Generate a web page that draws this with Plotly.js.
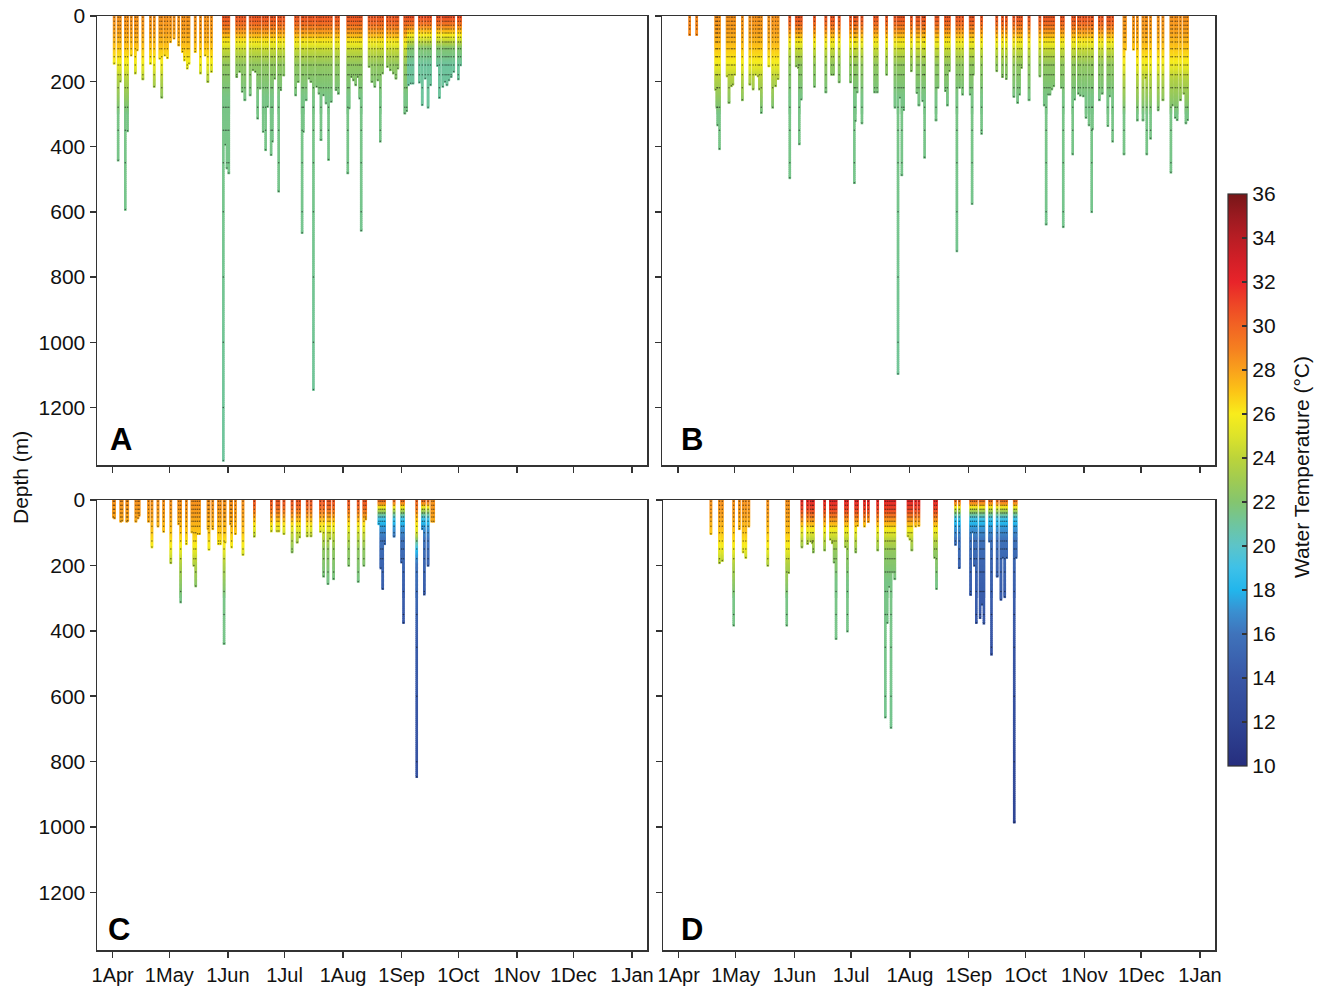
<!DOCTYPE html>
<html>
<head>
<meta charset="utf-8">
<script src="https://cdn.plot.ly/plotly-3.0.1.min.js"></script>
<style>
html,body{margin:0;padding:0;background:#fff;}
#chart{width:1323px;height:986px;}
</style>
</head>
<body>
<div id="chart"></div>
<script>
// ---------------- DATA ----------------
// Cast dates as days after 1 April; max depth of each cast in metres;
// temperature-profile type of each cast (index into the profile tables).
const seasonStart = '2011-04-01';

const aDays = [0.8,2.9,4,6.7,7.9,9.8,12,13,16,20,22,25,26,27.6,29,30.6,32.5,35,37,38,39.5,40.4,43.7,46.5,49,50.4,52.3,
  58.6,59.6,60.5,61.5,65.7,67.2,68.6,70,72.8,74.3,75.6,76.8,78,79.7,81,82,83.9,84.6,85.8,87.9,89,90.6,96.9,98.2,100.3,101,102.4,104,105,106.3,108,109.3,110.3,111.6,113,114.3,115.7,118.3,119.5,124.5,125.2,126.4,127.5,128.7,129.8,130.8,131.6,135.8,137.3,138.8,140.4,141.7,142.9,145.5,147,148.6,150,151,
  154.7,155.7,156.6,157.8,159,162.4,163.9,165.5,167,168.3,172,173,174.8,176,177,178,179.2,180.6,183,184.2];
const aDepths = [145,442,200,593,352,120,175,104,193,145,216,130,249,120,128,79,68,89,109,135,160,145,109,175,120,201,170,
  1362,394,466,481,186,170,231,257,242,165,170,313,221,354,410,277,425,384,191,537,226,181,242,201,664,354,257,191,201,1145,216,237,379,242,267,440,262,226,237,481,282,186,196,211,186,252,657,155,201,216,196,384,175,155,165,175,191,160,
  298,290,211,206,206,203,272,191,280,211,152,250,216,201,211,196,186,170,193,150];
const aProf = [0,0,0,0,0,0,0,0,0,0,0,0,0,0,0,0,0,0,0,0,0,0,0,0,0,0,0,
  1,1,1,1,1,1,1,1,1,1,1,1,1,1,1,1,1,1,1,1,1,1,1,1,1,1,1,1,1,1,1,1,1,1,1,1,1,1,1,1,1,1,1,1,1,1,1,1,1,1,1,1,1,1,1,1,1,1,1,1,
  2,2,2,2,2,2,2,2,2,2,2,2,2,2,2,2,2,2,2,2];

const bDays = [6.3,10,20,20.6,21,22,26,27,28.2,29,30,34,38,39.7,41,42.3,43,44,48,50,51.5,52.8,
  59,62.4,63.5,64,65,72,78,81,82,85,91,93,93.5,94.4,97,103.7,105,110,114.4,116,117,118,119,123,126,127,129,129.7,130,136,137,141,142,143,147,148.4,150,154,155,155.6,160,168,171,173,177,179,180,181,
  185,190.7,193,194,195,196,197,198,202,203,208,209,211,212,213.6,215,216.6,218,218.4,222,223.5,226.5,227.5,229,
  235,235.7,240,242,245,246.4,247,249,253,255.5,259.7,260.5,262,263,264.7,266.6,267.6,268.5];
const bDepths = [57,57,225,280,334,407,184,265,214,209,179,257,209,224,179,184,224,296,153,280,214,192,
  496,153,158,392,255,216,233,179,179,202,202,511,321,233,328,233,233,179,280,1096,250,487,287,168,235,273,260,179,433,319,219,229,273,168,720,219,240,240,575,179,360,168,186,192,247,265,240,158,
  257,184,273,638,240,240,224,214,219,646,423,255,237,243,245,311,334,600,346,257,237,336,245,384,
  423,102,102,319,319,189,423,375,288,257,479,273,311,318,257,237,328,318];
const bProf = [6,6,0,0,0,0,0,0,0,0,0,0,0,0,0,0,0,0,0,0,0,0,
  1,1,1,1,1,1,1,1,1,1,1,1,1,1,1,1,1,1,1,1,1,1,1,1,1,1,1,1,1,1,1,1,1,1,1,1,1,1,1,1,1,1,1,1,1,1,1,1,
  1,1,1,1,1,1,1,1,1,1,1,1,1,1,1,1,1,1,1,1,1,1,1,1,
  0,0,0,0,0,0,0,0,0,0,0,0,0,0,0,0,0,0];

const cDays = [0.4,1,4.3,5,7.5,8,12.3,13.4,14,19,20.8,24,27,30.8,35,36,39,42,43,44,45,46,50.5,51,53,56,57,59,59.5,62.4,63,65,69,
  75,84,87,88,90.7,95,97.7,99,103,105,110,111.7,114,115,117,125,130,133,134,
  141,142,143,144,149,153,154,161,164,165,167,169,170];
const cDepths = [52,55,65,63,65,63,65,55,47,65,144,80,96,192,73,312,134,98,200,263,103,103,88,151,88,134,134,439,129,73,144,103,167,
  111,95,95,95,103,159,129,113,110,110,96,233,256,118,241,200,249,200,58,
  73,208,271,134,111,190,375,846,88,288,200,65,65];
const cProf = [0,0,0,0,0,0,0,0,0,0,0,0,0,0,0,0,0,0,0,0,0,0,0,0,0,0,0,0,0,0,0,0,0,
  1,1,1,1,1,1,1,1,1,1,1,1,1,1,1,1,1,1,1,
  3,3,3,3,3,3,3,5,3,3,3,0,0];

const dDays = [17,21.5,23,29,32,34,35.4,37,47,57,58,
  65,68,69.6,70.5,71,77,80,81,82,83,88,89,93.4,94.3,98,100,105,109,110,111,112,113,114,121,122,123,125,126.7,135,136,
  146,148,154,155,156,157,159,160,161,164,165,168,170,171,172,173,177,178];
const dDepths = [103,192,185,383,88,159,176,80,200,383,222,
  144,133,126,131,159,153,120,131,190,424,143,401,159,78,80,66,153,664,375,265,696,220,241,110,120,153,80,78,176,271,
  136,207,289,98,200,375,360,319,377,126,472,233,304,176,296,176,985,176];
const dProf = [0,0,0,0,0,0,0,0,0,0,0,
  4,4,4,4,4,4,4,4,4,4,4,4,4,4,4,4,4,4,4,4,4,4,4,4,4,4,4,4,4,4,
  3,3,3,3,3,3,3,3,3,3,3,3,3,3,3,3,3,3];

// Temperature profile types: depth (m) -> temperature (°C)
const profDepth = [
  [0,50,100,140,200,300,1400],          // 0 spring / autumn
  [0,20,45,80,110,150,250,1400],        // 1 summer
  [0,25,50,75,100,150,1400],            // 2 late summer, sharper thermocline
  [0,15,35,55,80,120,200,400,1000],     // 3 cold upwelled water
  [0,30,60,90,120,160,250,1400],        // 4 hot summer
  [0,30,60,100,130,160,200,400,900],    // 5 cold with deeper warm layer
  [0,100]                               // 6 shallow warm mixed
];
const profTemp = [
  [28.5,28,27,26,23.5,21.5,21],
  [30.5,30,28.5,26,24,22.5,21.5,21],
  [31,29.5,27,24.5,22,21,21],
  [30,28,23,19.5,17.5,16,15,14,12],
  [32,31,28.5,26,24,22.5,21.5,21],
  [30,29,27,25,21,18,16,14.5,13.5],
  [28.8,28.5]
];
// depths at which measurement dots appear
const dotDepths = [4,16,28,40,52,65,80,100,125,150,180,220,280,350,450,600,800,1000,1200];

const monthTicks = ['2011-04-01','2011-05-01','2011-06-01','2011-07-01','2011-08-01','2011-09-01','2011-10-01','2011-11-01','2011-12-01','2012-01-01'];
const monthLabels = ['1Apr','1May','1Jun','1Jul','1Aug','1Sep','1Oct','1Nov','1Dec','1Jan'];
const depthTicks = [0,200,400,600,800,1000,1200];
const tempTicks = [10,12,14,16,18,20,22,24,26,28,30,32,34,36];

// ---------------- BUILD ----------------
const t0 = Date.parse(seasonStart + 'T00:00:00Z');
function dayToDate(d){ return new Date(t0 + d*864e5).toISOString().slice(0,19).replace('T',' '); }
function tempAt(p, z){
  const D = profDepth[p], T = profTemp[p];
  if (z <= D[0]) return T[0];
  for (let i = 1; i < D.length; i++){
    if (z <= D[i]){ const f = (z - D[i-1])/(D[i]-D[i-1]); return T[i-1] + f*(T[i]-T[i-1]); }
  }
  return T[T.length-1];
}
function panel(days, depths, profs, xa, ya){
  const cx=[], cy=[], cc=[], dx=[], dy=[];
  for (let k = 0; k < days.length; k++){
    const xd = dayToDate(days[k]), maxD = depths[k], p = profs[k];
    for (let z = 0; z < maxD; z += (z < 300 ? 4 : 6)){ cx.push(xd); cy.push(z); cc.push(tempAt(p,z)); }
    cx.push(xd); cy.push(maxD); cc.push(tempAt(p,maxD));
    for (const z of dotDepths){ if (z < maxD - 5){ dx.push(xd); dy.push(z); } }
    dx.push(xd); dy.push(maxD);
  }
  return [
    {type:'scatter', mode:'markers', x:cx, y:cy, xaxis:xa, yaxis:ya, hoverinfo:'skip', showlegend:false,
     marker:{symbol:'square', size:2.6, color:cc, coloraxis:'coloraxis', line:{width:0}}},
    {type:'scatter', mode:'markers', x:dx, y:dy, xaxis:xa, yaxis:ya, hoverinfo:'skip', showlegend:false,
     marker:{symbol:'circle', size:1.5, color:'rgba(20,20,20,0.6)', line:{width:0}}}
  ];
}

const data = [].concat(
  panel(aDays, aDepths, aProf, 'x', 'y'),
  panel(bDays, bDepths, bProf, 'x2', 'y2'),
  panel(cDays, cDepths, cProf, 'x3', 'y3'),
  panel(dDays, dDepths, dProf, 'x4', 'y4')
);

const W = 1323, H = 986;
const font = {family:'Liberation Sans, Arial, Helvetica, sans-serif', size:21, color:'#111'};
const xfont = {family:font.family, size:20, color:'#111'};
const xRange = ['2011-03-23 17:00','2012-01-08 22:00'];
function xAx(left, right, anchor, labels){
  return {domain:[left/W, right/W], anchor:anchor, type:'date', range:xRange,
    tickmode:'array', tickvals:monthTicks, ticktext:monthLabels, showticklabels:labels,
    ticks:'outside', ticklen:6, tickwidth:1.5, tickcolor:'#333',
    showline:true, linecolor:'#333', linewidth:1.5, mirror:true,
    showgrid:false, zeroline:false, tickfont:xfont, fixedrange:true};
}
function yAx(top, bottom, anchor, labels){
  return {domain:[1-bottom/H, 1-top/H], anchor:anchor, range:[1376,0],
    tickmode:'array', tickvals:depthTicks, showticklabels:labels,
    ticks:'outside', ticklen:6, tickwidth:1.5, tickcolor:'#333',
    showline:true, linecolor:'#333', linewidth:1.5, mirror:true,
    showgrid:false, zeroline:false, tickfont:font, fixedrange:true};
}
const colorscale = [
  [0/26,'#262e7e'],[2/26,'#2f4595'],[4/26,'#3856a6'],[6/26,'#3f73bb'],[7/26,'#3a8fd0'],[8/26,'#22b6ec'],
  [9/26,'#3ec1e8'],[10/26,'#5cc4c9'],[11/26,'#6fc59e'],[12/26,'#84c56f'],[13/26,'#a0cb52'],[14/26,'#bcd43a'],
  [15/26,'#dde32a'],[16/26,'#f8ec1c'],[17/26,'#fcc516'],[18/26,'#f9a11c'],[19/26,'#f57f20'],[20/26,'#f26423'],
  [21/26,'#ee4626'],[22/26,'#e8242a'],[23/26,'#d21f27'],[24/26,'#b81d24'],[25/26,'#9a1a20'],[26/26,'#771618']
];
function letter(t, x, y){
  return {text:'<b>'+t+'</b>', x:x/W, y:1-y/H, xref:'paper', yref:'paper', xanchor:'left', yanchor:'middle',
    showarrow:false, font:{family:font.family, size:31, color:'#000'}};
}
const layout = {
  width:W, height:H, margin:{l:0,r:0,t:0,b:0}, paper_bgcolor:'#fff', plot_bgcolor:'#fff', font:font,
  showlegend:false,
  xaxis: xAx(97, 647, 'y', false),
  yaxis: yAx(16, 465, 'x', true),
  xaxis2: xAx(662, 1215, 'y2', false),
  yaxis2: yAx(16, 465, 'x2', false),
  xaxis3: xAx(97, 647, 'y3', true),
  yaxis3: yAx(500, 950, 'x3', true),
  xaxis4: xAx(663, 1215, 'y4', true),
  yaxis4: yAx(500, 950, 'x4', false),
  coloraxis:{cmin:10, cmax:36, colorscale:colorscale,
    colorbar:{x:1228/W, xanchor:'left', xref:'paper', y:1-480/H, yanchor:'middle', yref:'paper',
      len:572/H, lenmode:'fraction', thickness:19, thicknessmode:'pixels', xpad:0, ypad:0,
      outlinewidth:1.2, outlinecolor:'#333', borderwidth:0,
      tickmode:'array', tickvals:tempTicks, ticks:'inside', ticklen:5, tickwidth:1.2, tickcolor:'#333',
      tickfont:font, title:{text:''}}},
  annotations:[
    letter('A', 108, 440), letter('B', 679, 440), letter('C', 106, 929), letter('D', 679, 929),
    {text:'Depth (m)', x:21/W, y:1-478/H, xref:'paper', yref:'paper', textangle:-90, showarrow:false,
     xanchor:'center', yanchor:'middle', font:font},
    {text:'Water Temperature (°C)', x:1301/W, y:1-467/H, xref:'paper', yref:'paper', textangle:-90, showarrow:false,
     xanchor:'center', yanchor:'middle', font:font}
  ]
};
Plotly.newPlot('chart', data, layout, {staticPlot:true, displayModeBar:false});
</script>
</body>
</html>
